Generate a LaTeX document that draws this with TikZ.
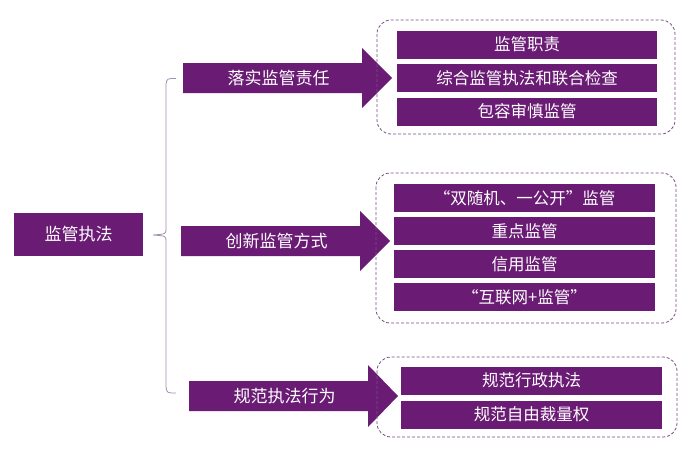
\documentclass[tikz,border=0pt]{standalone}
\usepackage{fontspec}
\setmainfont{Noto Sans CJK SC}
\definecolor{pur}{HTML}{6A1B74}
\definecolor{dashc}{HTML}{764E86}
\definecolor{bracec}{HTML}{A28FAF}
\newcommand{\purarrow}[7]{% name, x0, x1, x2, yc, bodyhalf, headhalf
  \fill[pur] (#2,#5-#6) -- (#3,#5-#6) -- (#3,#5-#7) -- (#4,#5) -- (#3,#5+#7) -- (#3,#5+#6) -- (#2,#5+#6) -- cycle;
  \coordinate (#1) at ({(#2+#3)/2+6},#5);
}
\begin{document}
\begin{tikzpicture}[x=1pt,y=-1pt,
  pbox/.style={fill=pur, text=white, minimum height=28pt, inner sep=0pt, font=\fontsize{16.5}{18}\selectfont},
  albl/.style={text=white, inner sep=0pt, font=\fontsize{17}{19}\selectfont},
  dbox/.style={draw=dashc, line width=0.8pt, dash pattern=on 3pt off 2pt, rounded corners=14pt},
  bracel/.style={draw=bracec, line width=0.8pt}]
\useasboundingbox (0,0) rectangle (692,461);
% main box
\node[fill=pur, text=white, minimum width=129pt, minimum height=43pt, inner sep=0pt, font=\fontsize{17}{19}\selectfont] (main) at (78.5,234.5) {监管执法};
% brace
\draw[bracel] (176,78.5) .. controls (167,78.5) .. (166,84) -- (166,229) .. controls (166,234) .. (153,235) .. controls (166,236) .. (166,241) -- (166,387) .. controls (167,393) .. (176,393);
% arrows
\purarrow{a1}{183}{362}{392}{78}{15}{30}
\node[albl] (t1) at (a1) {落实监管责任};
\purarrow{a2}{181}{360}{390}{241}{15}{30}
\node[albl] (t2) at (a2) {创新监管方式};
\purarrow{a3}{189}{368}{398}{396}{15}{31}
\node[albl] (t3) at (a3) {规范执法行为};
% dashed boxes
\draw[dbox] (377,20) rectangle (675,134);
\draw[dbox] (376,173) rectangle (676,323);
\draw[dbox] (377,357) rectangle (677,437);
% group 1
\node[pbox, minimum width=260pt] (b11) at (527,44.5) {监管职责};
\node[pbox, minimum width=260pt] (b12) at (527,78) {综合监管执法和联合检查};
\node[pbox, minimum width=260pt] (b13) at (527,111.5) {包容审慎监管};
% group 2
\node[pbox, minimum width=261pt] (b21) at (524.5,198) {“双随机、一公开”监管};
\node[pbox, minimum width=261pt] (b22) at (524.5,231) {重点监管};
\node[pbox, minimum width=261pt] (b23) at (524.5,264) {信用监管};
\node[pbox, minimum width=261pt] (b24) at (524.5,297) {“互联网+监管”};
% group 3
\node[pbox, minimum width=261pt] (b31) at (531.5,380.5) {规范行政执法};
\node[pbox, minimum width=261pt] (b32) at (531.5,414.5) {规范自由裁量权};
\end{tikzpicture}
\end{document}
